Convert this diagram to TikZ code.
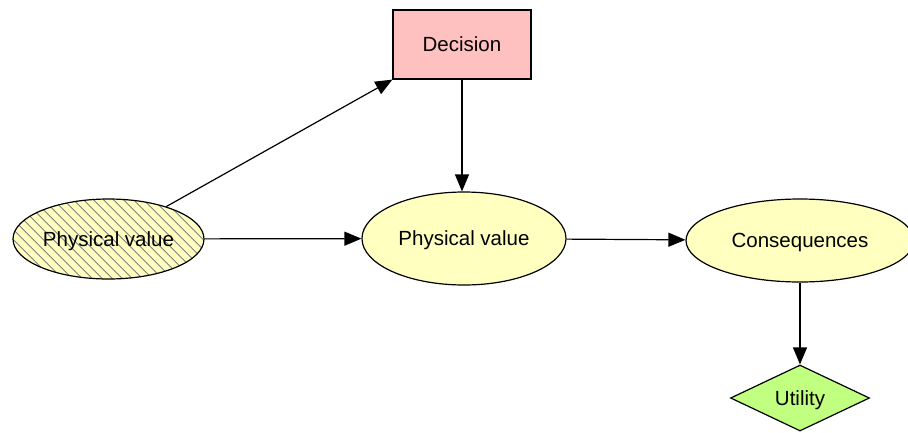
\documentclass[tikz,border=0pt]{standalone}
\usepackage{fontspec}
\setmainfont{Liberation Sans}
\usetikzlibrary{shapes.geometric,arrows.meta}
\definecolor{chanceyellow}{HTML}{FFFFC0}
\definecolor{decisionpink}{HTML}{FFC0C0}
\definecolor{utilitygreen}{HTML}{C0FF80}
\definecolor{hatchgray}{HTML}{808080}
\tikzset{
  every node/.style={font=\fontsize{20.5}{24}\selectfont, inner sep=0pt, text depth=0pt, line width=1.2pt, draw=black},
  chance/.style={ellipse, fill=chanceyellow},
  % diagonal hatching for the observed variable, in node-centred coordinates
  observed/.style={chance,
    path picture={
      \foreach \k in {-2,...,36}
        \draw[hatchgray, line width=1pt] (10*\k-212.8,-60) -- ++(130,130);
    }},
  decisionbox/.style={rectangle, fill=decisionpink, minimum width=138pt, minimum height=69pt},
  utilitynode/.style={diamond, fill=utilitygreen, minimum width=139pt, minimum height=66pt},
  link/.style={line width=1.2pt, -{Triangle[length=17pt,width=14pt]}}
}
\begin{document}
\begin{tikzpicture}[x=1pt,y=-1pt]
  \clip (0,0) rectangle (908,432);
  \fill[white] (0,0) rectangle (908,432);
  \node[decisionbox] (dec) at (462,44.5) {Decision};
  \node[observed, minimum width=191pt, minimum height=80pt] (pv1) at (108.5,239) {Physical value};
  \node[chance, minimum width=204pt, minimum height=93pt] (pv2) at (464,238.5) {Physical value};
  \node[chance, minimum width=228pt, minimum height=83pt] (cons) at (800,240.5) {Consequences};
  \node[utilitynode] (util) at (800,398) {Utility};
  \draw[link] (pv1) -- (dec.south west);
  \draw[link] (dec.south) -- (dec.south |- pv2.north);
  \draw[link] (pv1) -- (pv2);
  \draw[link] (pv2) -- (cons);
  \draw[link] (cons) -- (util);
\end{tikzpicture}
\end{document}
